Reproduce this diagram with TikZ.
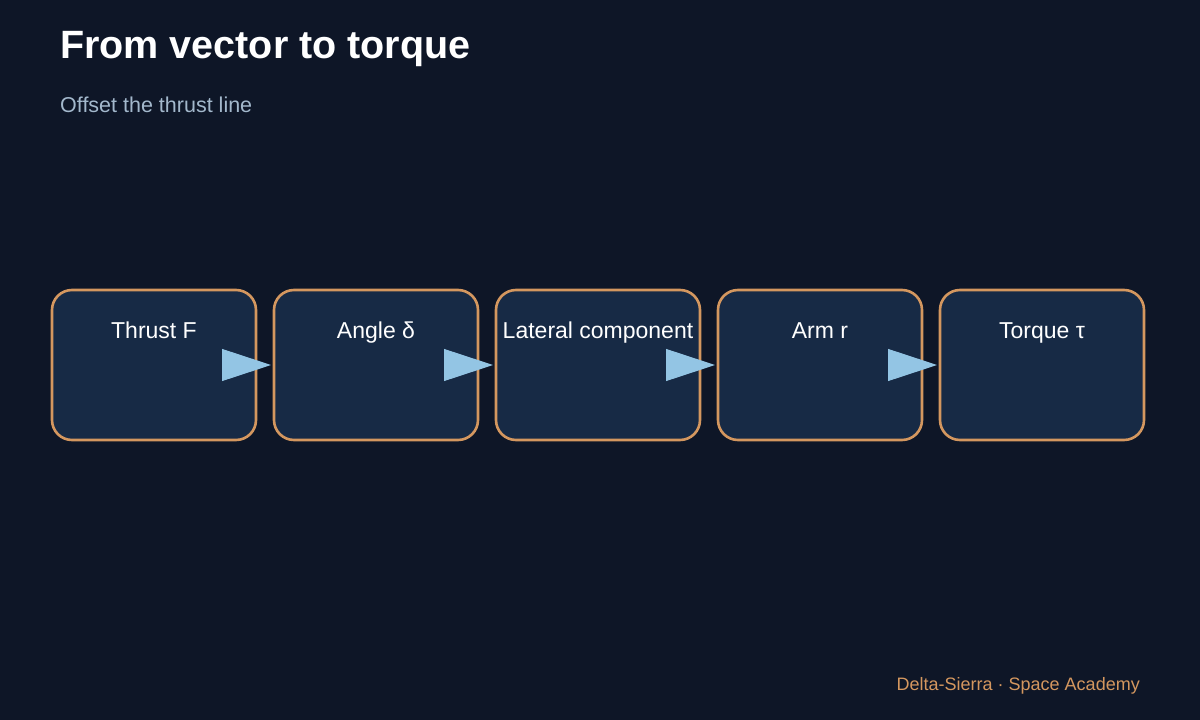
\documentclass[tikz,border=0pt]{standalone}
\usepackage{fontspec}
\setmainfont{Liberation Sans}
\usetikzlibrary{arrows.meta}
\definecolor{bg}{HTML}{0E1627}
\definecolor{boxfill}{HTML}{172A45}
\definecolor{boxline}{HTML}{D4975F}
\definecolor{arrowc}{HTML}{93C5E4}
\definecolor{subc}{HTML}{A3B8CC}
\definecolor{footc}{HTML}{D4975F}
\tikzset{
  stagebox/.style={draw=boxline, fill=boxfill, line width=2.6pt, rounded corners=20pt,
    minimum width=204pt, minimum height=150pt, outer sep=0pt, inner sep=0pt, anchor=north west},
  stagelabel/.style={text=white, font=\fontsize{23}{27}\selectfont, inner sep=0pt},
  flow/.style={draw=arrowc, line width=1pt, -{Triangle[length=49pt,width=32pt,fill=arrowc]}, shorten >=3pt}
}
\begin{document}
\begin{tikzpicture}[x=1pt,y=-1pt]
\fill[bg] (0,0) rectangle (1200,720);
\useasboundingbox (0,0) rectangle (1200,720);
\node[anchor=base west, text=white, font=\fontsize{39.5}{46}\selectfont\bfseries, inner sep=0pt] (title) at (60,58) {From vector to torque};
\node[anchor=base west, text=subc, font=\fontsize{21.5}{26}\selectfont, inner sep=0pt] (sub) at (60,112) {Offset the thrust line};
\foreach \i/\x/\t in {1/52/Thrust F, 2/274/Angle δ, 3/496/Lateral component, 4/718/Arm r, 5/940/Torque τ}{
  \node[stagebox] (b\i) at (\x,290) {};
  \node[stagelabel, anchor=base] (l\i) at ([yshift=-48pt]b\i.north) {\t};
}
\foreach \i/\j in {1/2,2/3,3/4,4/5}{
  \draw[flow] (b\i.east) -- (b\j.west);
}
\node[anchor=base east, text=footc, font=\fontsize{18}{22}\selectfont, inner sep=0pt] (foot) at (1140,690) {Delta-Sierra · Space Academy};
\end{tikzpicture}
\end{document}
